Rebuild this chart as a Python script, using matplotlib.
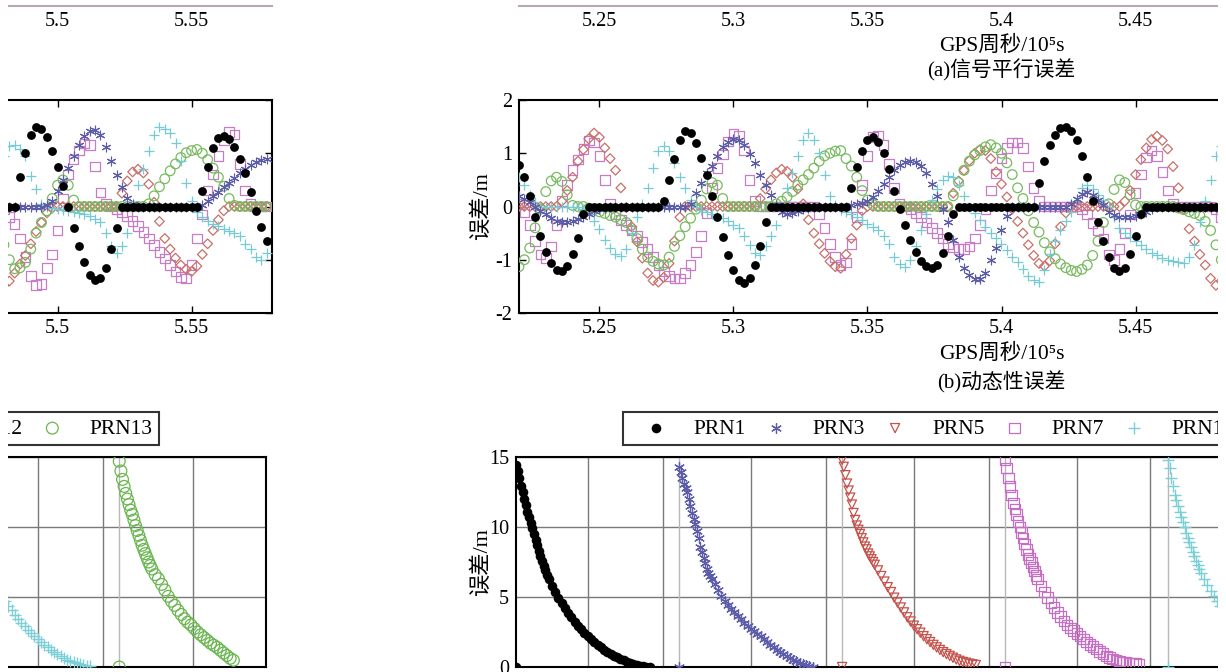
"""Wrapped strip of a GNSS error figure: (a) bottom edge, (b) dynamic error, (c) panel with legend."""

import matplotlib
matplotlib.use("Agg")
import matplotlib.pyplot as plt
from matplotlib.patches import Rectangle
import numpy as np

plt.rcParams.update({
    "font.family": ["Liberation Serif", "Noto Sans CJK SC", "DejaVu Serif"],
    "font.size": 14.5,
    "axes.unicode_minus": False,
})

W, H = 1226, 672
WRAP = 1212  # px: the strip is wrapped, its right end continues at the left

# ── Data ──
prn_labels = ["PRN1", "PRN3", "PRN5", "PRN7", "PRN12", "PRN13"]

# (b) dynamic error, sampled every 0.002 (x1e5 s) from 5.220
t0, dt = 5.220, 0.002
dyn_prn1 = [
    0.78, 0.55, 0.2, -0.2, -0.55, -0.85, -1.06, -1.19, -1.22, -1.12, -0.9, -0.6, -0.15,
    0, 0, 0, 0, 0, 0, 0, 0, 0, 0, 0, 0, 0, 0,
    0.1, 0.5, 0.9, 1.25, 1.42, 1.38, 1.2, 0.92, 0.6, 0.2, -0.2, -0.58, -0.92, -1.2,
    -1.38, -1.43, -1.35, -1.1, -0.75, -0.3,
    0, 0, 0, 0, 0, 0, 0, 0, 0, 0, 0, 0, 0, 0,
    0, 0.35, 0.75, 1.05, 1.25, 1.3, 1.22, 1.0, 0.7, 0.3, -0.05, -0.35, -0.62, -0.85,
    -1.02, -1.12, -1.16, -1.1, -0.88, -0.55, -0.15,
    0, 0, 0, 0, 0, 0, 0, 0, 0, 0, 0, 0, 0, 0, 0,
    0.45, 0.85, 1.15, 1.35, 1.47, 1.49, 1.42, 1.25, 0.95, 0.55, 0.1, -0.3, -0.65, -0.95,
    -1.15, -1.22, -1.15, -0.9, -0.55, -0.15,
    0, 0, 0, 0, 0, 0, 0, 0, 0, 0, 0, 0, 0, 0, 0, 0,
    0.55, 1.0, 1.35, 1.5, 1.45, 1.3, 1.05, 0.75, 0.38, 0, -0.4, -0.75, -1.05, -1.28,
    -1.38, -1.35, -1.15, -0.8, -0.4,
    0, 0, 0, 0, 0, 0, 0, 0, 0, 0, 0, 0, 0, 0, 0,
    0.3, 0.75, 1.1, 1.28, 1.32, 1.26, 1.12, 0.9, 0.62, 0.28, -0.08, -0.38, -0.65,
]
dyn_prn3 = [
    0.2, 0.15, 0.08, 0.0, -0.08, -0.15, -0.22, -0.27, -0.3, -0.3, -0.28, -0.24, -0.19,
    -0.14, -0.09, -0.05, -0.02,
    0, 0, 0, 0, 0, 0, 0, 0, 0, 0, 0, 0, 0, 0, 0,
    0.05, 0.25, 0.45, 0.62, 0.76, 0.95, 1.12, 1.22, 1.26, 1.25, 1.15, 0.98, 0.82, 0.6,
    0.4, 0.22, 0.03, -0.1, -0.14, -0.12, -0.08, -0.04, -0.02,
    0, 0, 0, 0, 0, 0, 0,
    0.02, 0.04, 0.07, 0.11, 0.18, 0.3, 0.43, 0.55, 0.68, 0.77, 0.83, 0.85, 0.83, 0.76,
    0.62, 0.42, 0.2, -0.05, -0.3, -0.62, -0.94, -1.15, -1.28, -1.36, -1.36, -1.25, -1.0,
    -0.78, -0.45, -0.18,
    0, 0, 0, 0, 0, 0, 0, 0, 0, 0, 0,
    0.05, 0.15, 0.24, 0.27, 0.22, 0.13, 0.02, -0.1, -0.16, -0.19, -0.2, -0.2, -0.18,
    -0.14, -0.1, -0.05,
    0, 0, 0, 0, 0, 0, 0, 0, 0, 0, 0, 0, 0, 0, 0, 0, 0, 0, 0,
    0.02, 0.1, 0.3, 0.5, 0.72, 0.95, 1.16, 1.33, 1.42, 1.44, 1.35, 1.12, 0.85, 0.6,
    0.36, 0.16, 0.05,
    0, 0, 0, 0, 0, 0, 0, 0, 0, 0, 0, 0,
    0.02, 0.1, 0.19, 0.28, 0.36, 0.44, 0.53, 0.62, 0.7, 0.77, 0.84, 0.87, 0.89,
]
dyn_prn5 = [
    0, 0, 0, 0, 0, 0, 0, 0,
    0.1, 0.3, 0.55, 0.85, 1.07, 1.27, 1.38, 1.3, 1.1, 0.9, 0.68, 0.35, -0.02, -0.38,
    -0.66, -0.97, -1.25, -1.39, -1.42, -1.33, -1.07, -0.65, -0.2,
    0, 0, 0, 0, 0, 0, 0, 0, 0, 0, 0, 0, 0, 0,
    0.15, 0.33, 0.5, 0.63, 0.7, 0.66, 0.55, 0.33, 0.05, -0.25, -0.5, -0.7, -0.88, -1.03,
    -1.13, -1.16, -0.9, -0.6, -0.35, -0.08,
    0, 0, 0, 0, 0, 0, 0, 0, 0, 0, 0, 0, 0, 0, 0, 0,
    0.25, 0.48, 0.68, 0.86, 1.0, 1.07, 1.05, 0.9, 0.65, 0.42, 0.18, -0.05, -0.28, -0.5,
    -0.72, -0.92, -1.07, -1.12, -1.02, -0.7, -0.38, -0.12,
    0, 0, 0, 0, 0, 0, 0, 0, 0, 0,
    0.1, 0.3, 0.6, 0.88, 1.1, 1.26, 1.32, 1.24, 1.08, 0.75, 0.35, -0.05, -0.42, -0.65,
    -0.9, -1.1, -1.35, -1.48, -1.4, -1.25, -1.08, -0.92, -0.7, -0.47, -0.3, -0.12, -0.03,
    0, 0, 0, 0, 0, 0, 0, 0, 0, 0, 0, 0,
    0.25, 0.48, 0.65, 0.7, 0.63, 0.42, 0.08, -0.28, -0.6, -0.8, -0.97, -1.1, -1.18,
    -1.22, -1.12, -0.9, -0.7, -0.45, -0.25, -0.08,
    0, 0, 0, 0, 0, 0, 0, 0,
]
dyn_prn7 = [
    0.05, -0.1, -0.35, -0.65, -0.9, -0.97, -0.75, -0.35, 0.1, 0.4, 0.68, 0.88, 1.08,
    1.24, 1.2, 0.95, 0.5, 0.05, -0.15, -0.25, -0.35, -0.45, -0.55, -0.67, -0.8, -0.95,
    -1.1, -1.22, -1.3, -1.35, -1.35, -1.25, -1.1, -0.85, -0.55, -0.12, 0.35, 0.72, 0.98,
    1.22, 1.36, 1.32, 1.05, 0.5, 0.1,
    0, 0, 0, 0, 0, 0, 0, 0, 0, 0, 0,
    -0.15, -0.4, -0.7, -0.95, -1.1, -1.05, -0.7, -0.2, 0.4, 0.95, 1.3, 1.33, 1.15, 0.8,
    0.35, 0.05,
    0, -0.05, -0.12, -0.2, -0.3, -0.4, -0.5, -0.6, -0.7, -0.76, -0.8, -0.8, -0.75, -0.6,
    -0.35, -0.05, 0.3, 0.62, 0.9, 1.1, 1.2, 1.2, 1.1, 0.75, 0.35, 0.1,
    0, 0, 0, 0, 0, 0, 0,
    -0.05, -0.15, -0.31, -0.45, -0.6, -0.9, -1.0, -0.8, -0.5, -0.15, 0.25, 0.6, 0.92,
    1.05, 0.95, 0.65, 0.3, 0.05,
    0, 0, 0, 0, 0, 0, 0,
    -0.05, -0.2, -0.33, -0.6, -0.95, -1.3, -1.48, -1.45, -1.15, -0.9, -0.45, 0.15, 0.6,
    0.88, 1.05, 1.18, 1.15, 0.75, 0.26, 0.05,
    0, -0.05, -0.1, -0.18, -0.27, -0.37, -0.48, -0.6, -0.72, -0.85, -0.98, -1.1, -1.22,
    -1.32, -1.35, -1.1, -0.6, -0.15, 0.3, 0.6, 0.95, 1.25, 1.4, 1.35, 0.8, 0.3, 0.05,
    0, 0, 0,
]
dyn_prn12 = [
    0.55, 0.4, 0.22, 0.08, 0, 0, 0, 0, 0, 0, 0, 0, -0.05, -0.15, -0.28, -0.43, -0.62,
    -0.78, -0.9, -0.93, -0.8, -0.5, -0.2, 0.05, 0.35, 0.72, 1.05, 1.14, 1.05, 0.82, 0.55,
    0.34, 0.12, 0.0, -0.06, -0.1, -0.14, -0.18, -0.22, -0.28, -0.35, -0.4, -0.55, -0.72,
    -0.88, -0.92, -0.75, -0.55, -0.35, 0.0, 0.35, 0.62, 0.95, 1.25, 1.38, 1.25, 1.0, 0.6,
    0.2, 0.02, -0.06, -0.1, -0.15, -0.2, -0.25, -0.32, -0.38, -0.45, -0.55, -0.7, -0.95,
    -1.08, -1.13, -1.0, -0.75, -0.45, -0.15, 0.12, 0.32, 0.5, 0.58, 0.55, 0.4, 0.19, 0.0,
    -0.12, -0.25, -0.38, -0.5, -0.6, -0.7, -0.82, -0.95, -1.05, -1.18, -1.3, -1.38, -1.41,
    -1.2, -0.9, -0.65, -0.45, -0.28, -0.1, 0.1, 0.35, 0.4, 0.32, 0.22, 0.13, 0.0, -0.2,
    -0.4, -0.5, -0.58, -0.65, -0.72, -0.8, -0.87, -0.92, -0.96, -1.0, -1.03, -1.05, -1.06,
    -0.95, -0.72, -0.3, 0.1, 0.5, 0.95, 1.13, 1.16, 1.08, 0.95, 0.57, 0.32, 0.05, 0,
    -0.03, -0.05, -0.07, -0.08, -0.1, -0.12, -0.15, -0.18, -0.23, -0.3, -0.5, -0.75,
    -0.87, -0.75, -0.5, 0.0, 0.4, 0.7, 1.05, 1.35, 1.5, 1.45, 1.38, 1.2, 0.85, 0.45, 0.1,
    -0.1, -0.2, -0.27, -0.32, -0.37, -0.42, -0.46, -0.5, -0.55, -0.7, -0.8, -0.95, -1.0,
    -0.88,
]
dyn_prn13 = [
    -1.13, -1.0, -0.78, -0.4, -0.05, 0.28, 0.48, 0.55, 0.47, 0.22, 0.02, 0, 0, -0.03,
    -0.06, -0.1, -0.13, -0.17, -0.2, -0.25, -0.3, -0.45, -0.6, -0.8, -0.95, -1.03, -1.08,
    -1.1, -0.95, -0.75, -0.55, -0.38, -0.22, -0.05, 0.12, 0.33, 0.45, 0.4, 0.15, 0,
    0, 0, 0, 0, 0, 0, 0, 0,
    0.05, 0.1, 0.18, 0.28, 0.4, 0.5, 0.6, 0.72, 0.85, 0.95, 1.0, 1.04, 1.05, 0.9, 0.76,
    0.55, 0.3, 0.12, 0.04,
    0, 0, 0, 0, 0, 0, 0, 0, 0, 0, 0, 0, 0, 0,
    0.2, 0.45, 0.68, 0.85, 0.97, 1.05, 1.12, 1.16, 1.1, 1.0, 0.82, 0.6, 0.35, 0.15,
    -0.08, -0.3, -0.48, -0.68, -0.85, -0.98, -1.08, -1.15, -1.2, -1.22, -1.18, -1.1,
    -0.92, -0.65, -0.3, 0.05, 0.32, 0.5, 0.45, 0.22, 0.03,
    0, 0, 0, 0, 0, 0, 0,
    -0.03, -0.06, -0.1, -0.13, -0.17, -0.28, -0.45, -0.72, -1.0, -1.17, -1.15, -1.05,
    -0.8, -0.5, -0.3, -0.08, 0.15, 0.4, 0.5, 0.4, 0.12,
    0, 0, 0, 0, 0, 0, 0, 0, 0, 0, 0, 0, 0,
    0.05, 0.2, 0.37, 0.52, 0.67, 0.8, 0.92, 1.01, 1.05, 1.07, 1.0, 0.88, 0.72, 0.55,
    0.38, 0.15, 0.02,
    0, 0, 0, 0, 0, 0,
]
b_series = [dyn_prn1, dyn_prn3, dyn_prn5, dyn_prn7, dyn_prn12, dyn_prn13]

b_xticks = [5.25, 5.3, 5.35, 5.4, 5.45, 5.5, 5.55]
b_xticklabels = ["5.25", "5.3", "5.35", "5.4", "5.45", "5.5", "5.55"]
b_yticks = [2, 1, 0, -1, -2]
b_yticklabels = ["2", "1", "0", "-1", "-2"]

# (c) per-satellite decay; each satellite starts at its own epoch block
c_start = [0, 100, 200, 300, 400, 500]
c_epoch = list(range(0, 20)) + list(range(20, 84, 2))
c_prn1 = [14.4, 14.0, 13.5, 12.9, 12.5, 12.0, 11.6, 11.1, 10.7, 10.3, 9.9, 9.5, 9.1,
          8.7, 8.3, 7.9, 7.55, 7.2, 6.9, 6.6, 6.3, 5.8, 5.35, 4.95, 4.55, 4.2, 3.85,
          3.55, 3.25, 2.95, 2.7, 2.45, 2.2, 2.0, 1.8, 1.6, 1.42, 1.25, 1.1, 0.95, 0.82,
          0.7, 0.58, 0.47, 0.38, 0.3, 0.22, 0.16, 0.1, 0.06, 0.03, 0.01]
c_prn3 = [14.3, 13.9, 13.5, 13.1, 12.8, 12.5, 12.0, 11.5, 11.0, 10.6, 10.2, 9.7, 9.2,
          8.6, 8.2, 7.8, 7.4, 7.0, 6.75, 6.5, 6.3, 5.9, 5.5, 5.1, 4.75, 4.45, 4.15,
          3.9, 3.65, 3.4, 3.15, 2.95, 2.75, 2.55, 2.35, 2.2, 2.0, 1.8, 1.6, 1.4, 1.22,
          1.05, 0.9, 0.76, 0.64, 0.52, 0.42, 0.32, 0.22, 0.13, 0.06, 0.02]
c_prn5 = [14.8, 14.3, 13.7, 13.1, 12.6, 12.1, 11.6, 11.0, 10.5, 10.1, 9.8, 9.5, 9.2,
          8.9, 8.6, 8.4, 8.1, 7.9, 7.7, 7.5, 7.3, 6.9, 6.5, 6.1, 5.7, 5.35, 4.95, 4.6,
          4.25, 3.9, 3.55, 3.25, 2.95, 2.7, 2.45, 2.2, 1.98, 1.78, 1.58, 1.4, 1.22,
          1.06, 0.92, 0.79, 0.66, 0.54, 0.44, 0.36, 0.3, 0.24, 0.19, 0.14]
c_prn7 = [14.8, 14.2, 13.5, 12.9, 12.3, 11.7, 11.3, 10.9, 10.4, 10.0, 9.6, 9.2, 8.8,
          8.4, 8.05, 7.75, 7.45, 7.15, 6.85, 6.55, 6.3, 5.8, 5.35, 4.95, 4.6, 4.25,
          3.9, 3.6, 3.3, 3.0, 2.8, 2.6, 2.4, 2.2, 2.0, 1.8, 1.62, 1.45, 1.28, 1.1,
          0.95, 0.8, 0.68, 0.58, 0.5, 0.43, 0.37, 0.32, 0.28, 0.25, 0.23, 0.2]
c_prn12 = [14.8, 14.2, 13.5, 12.9, 12.3, 11.9, 11.5, 11.1, 10.7, 10.35, 10.0, 9.6,
           9.25, 8.9, 8.55, 8.2, 7.9, 7.6, 7.3, 7.0, 6.75, 6.3, 5.85, 5.45, 5.05, 4.7,
           4.35, 4.05, 3.75, 3.45, 3.15, 2.9, 2.65, 2.4, 2.2, 2.0, 1.8, 1.6, 1.4, 1.22,
           1.05, 0.9, 0.76, 0.63, 0.52, 0.42, 0.34, 0.26, 0.2, 0.14, 0.1, 0.06]
c_prn13 = [14.7, 14.0, 13.4, 12.9, 12.4, 12.0, 11.6, 11.2, 10.9, 10.5, 10.1, 9.75, 9.4,
           9.05, 8.7, 8.4, 8.1, 7.8, 7.5, 7.25, 7.0, 6.6, 6.3, 5.9, 5.5, 5.05, 4.7, 4.4,
           4.05, 3.75, 3.45, 3.2, 3.0, 2.75, 2.5, 2.3, 2.1, 1.9, 1.7, 1.55, 1.4, 1.2,
           1.0, 0.82, 0.62, 0.48]
c_series = [c_prn1, c_prn3, c_prn5, c_prn7, c_prn12, c_prn13]
c_grid = [44, 90, 144, 190, 244, 290, 344, 389, 450, 490, 545]

# ── Styles ──
b_styles = [
    dict(marker="o", s=40, c="black", linewidths=0),
    dict(marker=(6, 2, 0), s=40, c="#5c5ca8", linewidths=0.8),
    dict(marker="D", s=24, facecolors="none", edgecolors="#c8706a", linewidths=0.9),
    dict(marker="s", s=48, facecolors="none", edgecolors="#c77cc8", linewidths=0.9),
    dict(marker="+", s=60, c="#76cad3", linewidths=0.9),
    dict(marker="o", s=48, facecolors="none", edgecolors="#78ba60", linewidths=0.9),
]
b_order = [3, 2, 5, 4, 1, 0]
c_styles = [
    dict(marker="o", s=48, c="black", linewidths=0),
    dict(marker=(6, 2, 0), s=50, c="#5c5ca8", linewidths=0.9),
    dict(marker="v", s=44, facecolors="none", edgecolors="#c4534c", linewidths=0.9),
    dict(marker="s", s=58, facecolors="none", edgecolors="#c46fc4", linewidths=0.9),
    dict(marker="+", s=70, c="#7ccfd6", linewidths=1.0),
    dict(marker="o", s=72, facecolors="none", edgecolors="#6ab54f", linewidths=0.9),
]

LABEL_FS = 15.5
CJK_FS = 15

fig = plt.figure(figsize=(W / 100, H / 100), dpi=100)
fig.patch.set_facecolor("white")


def wrapped_axes(left, top, width, height):
    """Two copies of one axes: the visible right part and the wrapped-around end."""
    axes = []
    for off in (0, -WRAP):
        ax = fig.add_axes([(left + off) / W, 1 - (top + height) / H, width / W, height / H])
        axes.append(ax)
    return axes


# ── (a) only its bottom edge and labels are left in the strip ──
for ax in wrapped_axes(519, -200, 965, 206):
    ax.set_xlim(5.22, 5.58)
    ax.set_ylim(-2, 2)
    for side in ("top", "left", "right"):
        ax.spines[side].set_visible(False)
    ax.spines["bottom"].set_color("#b9a9b6")
    ax.spines["bottom"].set_linewidth(1.5)
    ax.set_xticks(b_xticks)
    ax.set_xticklabels(b_xticklabels)
    ax.set_yticks([])
    ax.tick_params(axis="x", length=0, pad=4.5)
    ax.set_xlabel("GPS周秒/10⁵s", labelpad=3, fontsize=LABEL_FS)

# ── (b) dynamic error ──
b_axes = wrapped_axes(519, 100, 965, 213)
for ax in b_axes:
    for k in b_order:
        y = np.array(b_series[k])
        x = t0 + dt * np.arange(len(y))
        ax.scatter(x, y, zorder=3, **b_styles[k])
    ax.set_xlim(5.22, 5.58)
    ax.set_ylim(-2, 2)
    ax.set_xticks(b_xticks)
    ax.set_xticklabels(b_xticklabels)
    ax.set_yticks(b_yticks)
    ax.set_yticklabels(b_yticklabels)
    ax.tick_params(direction="in", length=5, width=1, top=True, right=True, pad=4)
    ax.tick_params(axis="y", pad=5)
    for sp in ax.spines.values():
        sp.set_linewidth(1.5)
    ax.set_xlabel("GPS周秒/10⁵s", labelpad=4, fontsize=LABEL_FS)
    ax.set_ylabel("误差/m", labelpad=2, fontsize=16)

# ── (c) ──
c_axes = wrapped_axes(516, 457, 962, 210)
for ax in c_axes:
    handles = []
    for k in range(6):
        vals = c_series[k]
        e = np.array(c_epoch[:len(vals)])
        x = np.concatenate([[c_start[k]], c_start[k] + e])
        y = np.concatenate([[0.0], vals])
        handles.append(ax.scatter(x, y, zorder=3, label=prn_labels[k], **c_styles[k]))
    for s in c_start[1:]:
        ax.axvline(s, color="#b8b8b8", lw=1, zorder=1)
    ax.set_xlim(0, 590)
    ax.set_ylim(0, 15)
    ax.set_xticks(c_grid)
    ax.set_yticks([0, 5, 10, 15])
    ax.grid(True, color="#7a7a7a", lw=1)
    ax.set_axisbelow(True)
    ax.tick_params(length=0, labelbottom=False, pad=5)
    for sp in ax.spines.values():
        sp.set_linewidth(1.5)
    ax.set_ylabel("误差/m", labelpad=-2, fontsize=16)
    leg = ax.legend(handles=handles, ncol=6, loc="lower center",
                    bbox_to_anchor=(0.5, 1.057), frameon=True, fancybox=False,
                    edgecolor="black", borderpad=0.29, handlelength=2.47,
                    handletextpad=0.49, columnspacing=0.16, fontsize=LABEL_FS,
                    borderaxespad=0)
    leg.get_frame().set_linewidth(1.5)

# ── captions ──
cx = (519 + 965 / 2) / W
fig.text(cx, 1 - 70 / H, "(a)信号平行误差", ha="center", va="center", fontsize=CJK_FS)
fig.text(cx, 1 - 382 / H, "(b)动态性误差", ha="center", va="center", fontsize=CJK_FS)

# blank margins at both ends of the wrapped strip
fig.add_artist(Rectangle((0, 0), 8 / W, 1, transform=fig.transFigure,
                         facecolor="white", edgecolor="none", zorder=20))
fig.add_artist(Rectangle((1218 / W, 0), 8 / W, 1, transform=fig.transFigure,
                         facecolor="white", edgecolor="none", zorder=20))

fig.savefig("out.png", dpi=100, facecolor="white")
